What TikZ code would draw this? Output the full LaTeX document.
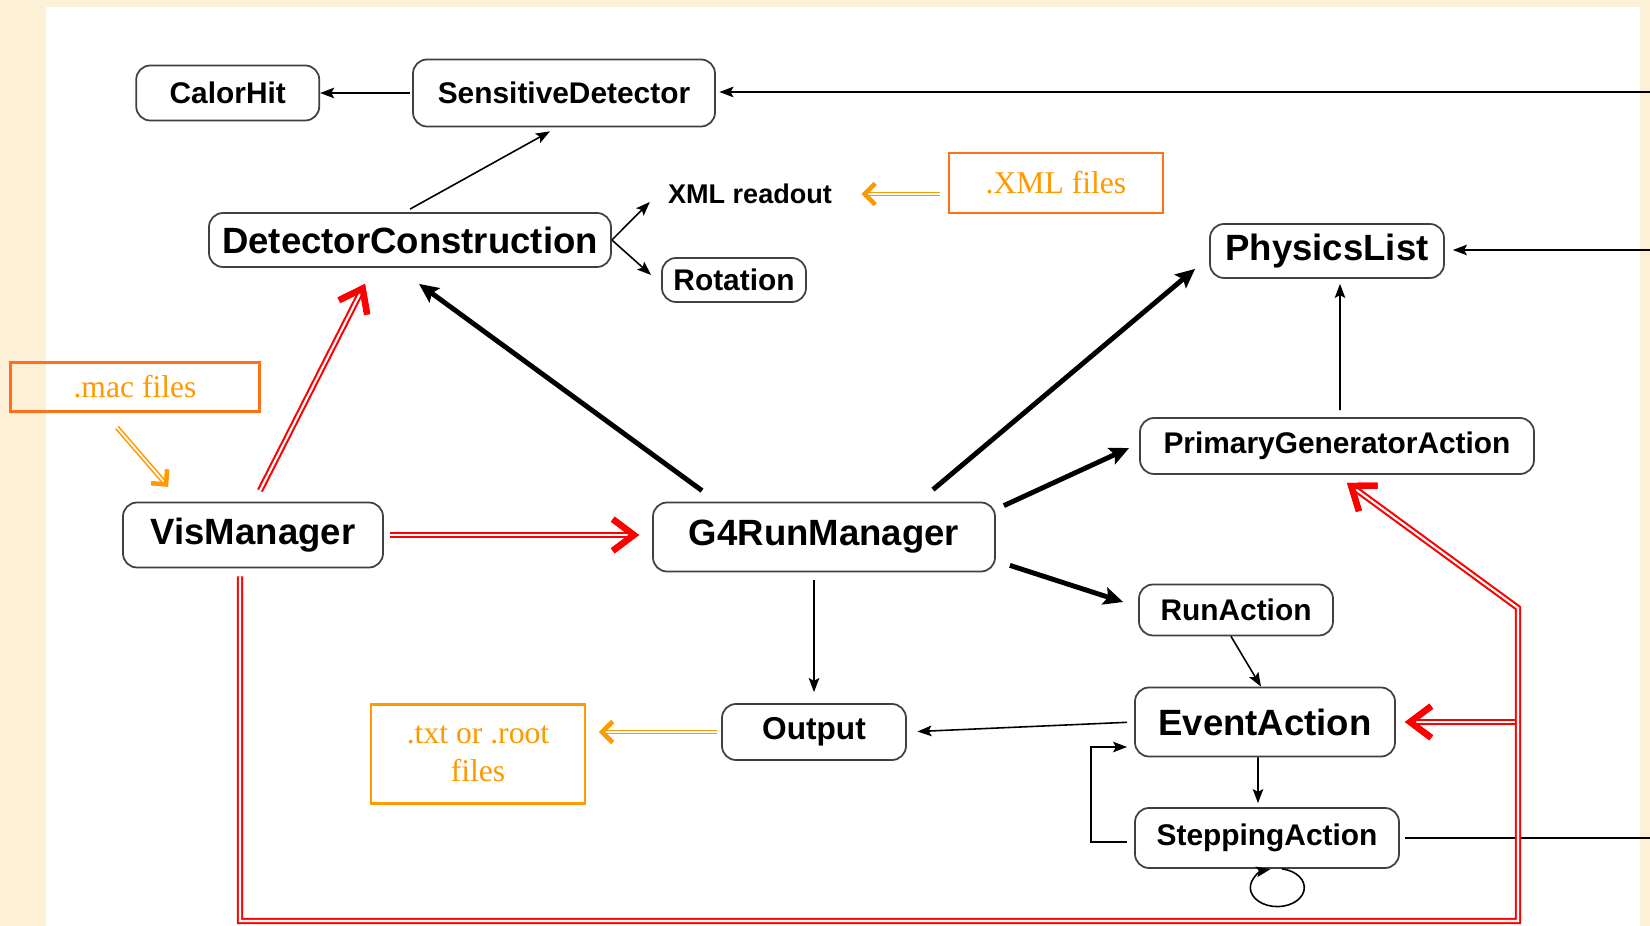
\documentclass[tikz,border=0pt]{standalone}
\usepackage{fontspec}
\setmainfont{Liberation Serif}
\setsansfont{Liberation Sans}
\usetikzlibrary{positioning,arrows.meta}

\definecolor{paper}{RGB}{252,240,214}
\definecolor{filesorange}{RGB}{255,153,0}
\definecolor{filesframe}{RGB}{255,112,24}
\definecolor{txtframe}{RGB}{255,155,0}
\definecolor{flowred}{RGB}{255,0,0}

\begin{document}
\begin{tikzpicture}[
    every node/.style={align=center},
    block/.style={
        draw=black!75,
        line width=0.5pt,
        rounded corners=4pt,
        fill=white,
        inner sep=0pt,
        font=\sffamily\bfseries\fontsize{8.5}{10}\selectfont
    },
    bigblock/.style={block, font=\sffamily\bfseries\fontsize{10.4}{12}\selectfont},
    files/.style={draw=filesframe, line width=0.6pt, inner sep=0pt, text=filesorange,
        font=\fontsize{9}{10.8}\selectfont},
    thinarrow/.style={line width=0.45pt, -{Stealth[length=4pt,width=3pt,inset=0.8pt]}},
    thickarrow/.style={line width=1.4pt, -{Stealth[length=5.5pt,width=5pt,inset=1pt]}},
    redarrow/.style={preaction={draw=flowred, line width=1.8pt}, draw=white, line width=0.6pt,
        -{Straight Barb[length=6pt,width=9pt,line width=1.8pt,color=flowred]}},
    orangearrow/.style={preaction={draw=filesorange, line width=1.4pt}, draw=white, line width=0.5pt,
        -{Straight Barb[length=3pt,width=6pt,line width=1.2pt,color=filesorange]}}
]
\fill[paper] (0,0) rectangle (16.5,9.26);
\fill[white] (0.46,0) rectangle (16.40,9.19);
\useasboundingbox (0,0) rectangle (16.5,9.26);

\node[block, minimum width=3.02cm, minimum height=0.67cm] (sens) at (5.64,8.33) {SensitiveDetector};
\node[block, minimum width=1.83cm, minimum height=0.55cm, left=0.92cm of sens] (calor) {CalorHit};
\node[bigblock, minimum width=4.02cm, minimum height=0.54cm] (detc) at (4.10,6.86) {DetectorConstruction};
\node[font=\sffamily\bfseries\fontsize{7.7}{9}\selectfont, inner sep=1pt] (xmlr) at (7.50,7.32) {XML readout};
\node[block, minimum width=1.44cm, minimum height=0.44cm] (rot) at (7.34,6.46) {Rotation};
\node[files, minimum width=2.14cm, minimum height=0.60cm] (xmlf) at (10.56,7.43) {.XML files};
\node[bigblock, minimum width=2.34cm, minimum height=0.54cm] (phys) at (13.27,6.75) {PhysicsList};
\node[block, minimum width=3.94cm, minimum height=0.56cm] (pga) at (13.37,4.80) {PrimaryGeneratorAction};
\node[bigblock, minimum width=3.42cm, minimum height=0.69cm] (g4rm) at (8.24,3.89) {G4RunManager};
\node[bigblock, minimum width=2.60cm, minimum height=0.65cm] (vis) at (2.53,3.91) {VisManager};
\node[files, minimum width=2.49cm, minimum height=0.49cm] (mac) at (1.35,5.39) {.mac files};
\node[block, minimum width=1.94cm, minimum height=0.51cm] (run) at (12.36,3.16) {RunAction};
\node[bigblock, minimum width=2.60cm, minimum height=0.69cm] (evt) at (12.65,2.04) {EventAction};
\node[block, minimum width=2.64cm, minimum height=0.60cm] (stepact) at (12.67,0.88) {SteppingAction};
\node[block, font=\sffamily\bfseries\fontsize{9}{11}\selectfont, minimum width=1.84cm, minimum height=0.56cm] (outp) at (8.14,1.94) {Output};
\node[files, draw=txtframe, minimum width=2.14cm, minimum height=0.99cm] (txt) at (4.78,1.72) {.txt or .root\\files};

\coordinate (rtop) at (16.5,8.34);
\coordinate (rphys) at (16.5,6.76);
\coordinate (rstep) at (16.5,0.89);
\coordinate (rb) at (15.18,0.05);
\coordinate (rt) at (15.18,3.18);

\draw[thinarrow, shorten >=1pt] (rtop) -- (rtop -| sens.east);
\draw[thinarrow, shorten >=0.08cm] (rphys) -- (rphys -| phys.east);
\draw[line width=0.45pt, shorten <=0.05cm] (stepact.east) -- (rstep |- stepact.east);
\draw[thinarrow, shorten <=0.5pt] (sens.west) -- (calor.east);
\draw[thinarrow] ([yshift=0.03cm]detc.north) -- ([xshift=-0.14cm,yshift=-0.04cm]sens.south);
\draw[thinarrow] (detc.east) -- ([xshift=-0.14cm,yshift=-0.08cm]xmlr.west);
\draw[thinarrow] (detc.east) -- ([xshift=-0.10cm,yshift=0.05cm]rot.west);
\draw[thinarrow] ([xshift=0.03cm,yshift=0.07cm]pga.north) -- ([xshift=0.13cm,yshift=-0.05cm]phys.south);

\draw[thickarrow] ([xshift=-1.22cm,yshift=0.11cm]g4rm.north) -- ([xshift=0.09cm,yshift=-0.16cm]detc.south);
\draw[thickarrow] ([xshift=1.09cm,yshift=0.12cm]g4rm.north) -- ([xshift=-0.14cm,yshift=0.10cm]phys.south west);
\draw[thickarrow] ([xshift=0.08cm,yshift=-0.04cm]g4rm.north east) -- ([xshift=-0.10cm,yshift=-0.02cm]pga.west);
\draw[thickarrow] ([xshift=0.14cm,yshift=0.07cm]g4rm.south east) -- ([xshift=-0.15cm,yshift=0.08cm]run.west);

\draw[thinarrow, shorten <=0.08cm, shorten >=0.11cm] (g4rm.south -| outp.north) -- (outp.north);
\draw[thinarrow, shorten <=2pt, shorten >=3pt] (evt.west) -- (outp.east);
\draw[thinarrow] ([xshift=-0.05cm]run.south) -- ([xshift=-0.04cm]evt.north);
\draw[thinarrow] ([xshift=-0.07cm]evt.south) -- ([xshift=-0.09cm,yshift=0.04cm]stepact.north);
\draw[thinarrow] ([xshift=-0.07cm,yshift=-0.04cm]stepact.west) -- ++(-0.36,0)
    |- ([xshift=-0.07cm,yshift=-0.25cm]evt.west);
\draw[thinarrow] ([xshift=0.15cm]stepact.south) arc[start angle=80, end angle=-255, x radius=0.27cm, y radius=0.19cm];

\draw[redarrow, shorten <=0.06cm, shorten >=0.13cm] (vis.east) -- (vis.east -| g4rm.west);
\draw[redarrow] ([xshift=0.07cm,yshift=0.11cm]vis.north) -- ([xshift=-0.45cm,yshift=-0.16cm]detc.south);
\draw[redarrow, shorten >=0.09cm] (rb |- evt.east) -- (evt.east);
\draw[redarrow] ([xshift=-0.13cm,yshift=-0.08cm]vis.south) |- (rb) -- (rt)
    -- ([xshift=0.10cm,yshift=-0.08cm]pga.south);

\draw[orangearrow, shorten <=0.08cm, shorten >=0.255cm] (xmlr.east -| xmlf.west) -- (xmlr.east);
\draw[orangearrow] ([xshift=-0.18cm,yshift=-0.15cm]mac.south) -- ([xshift=-0.85cm,yshift=0.15cm]vis.north);
\draw[orangearrow, shorten <=0.04cm, shorten >=0.13cm] (outp.west) -- (outp.west -| txt.east);
\end{tikzpicture}
\end{document}
